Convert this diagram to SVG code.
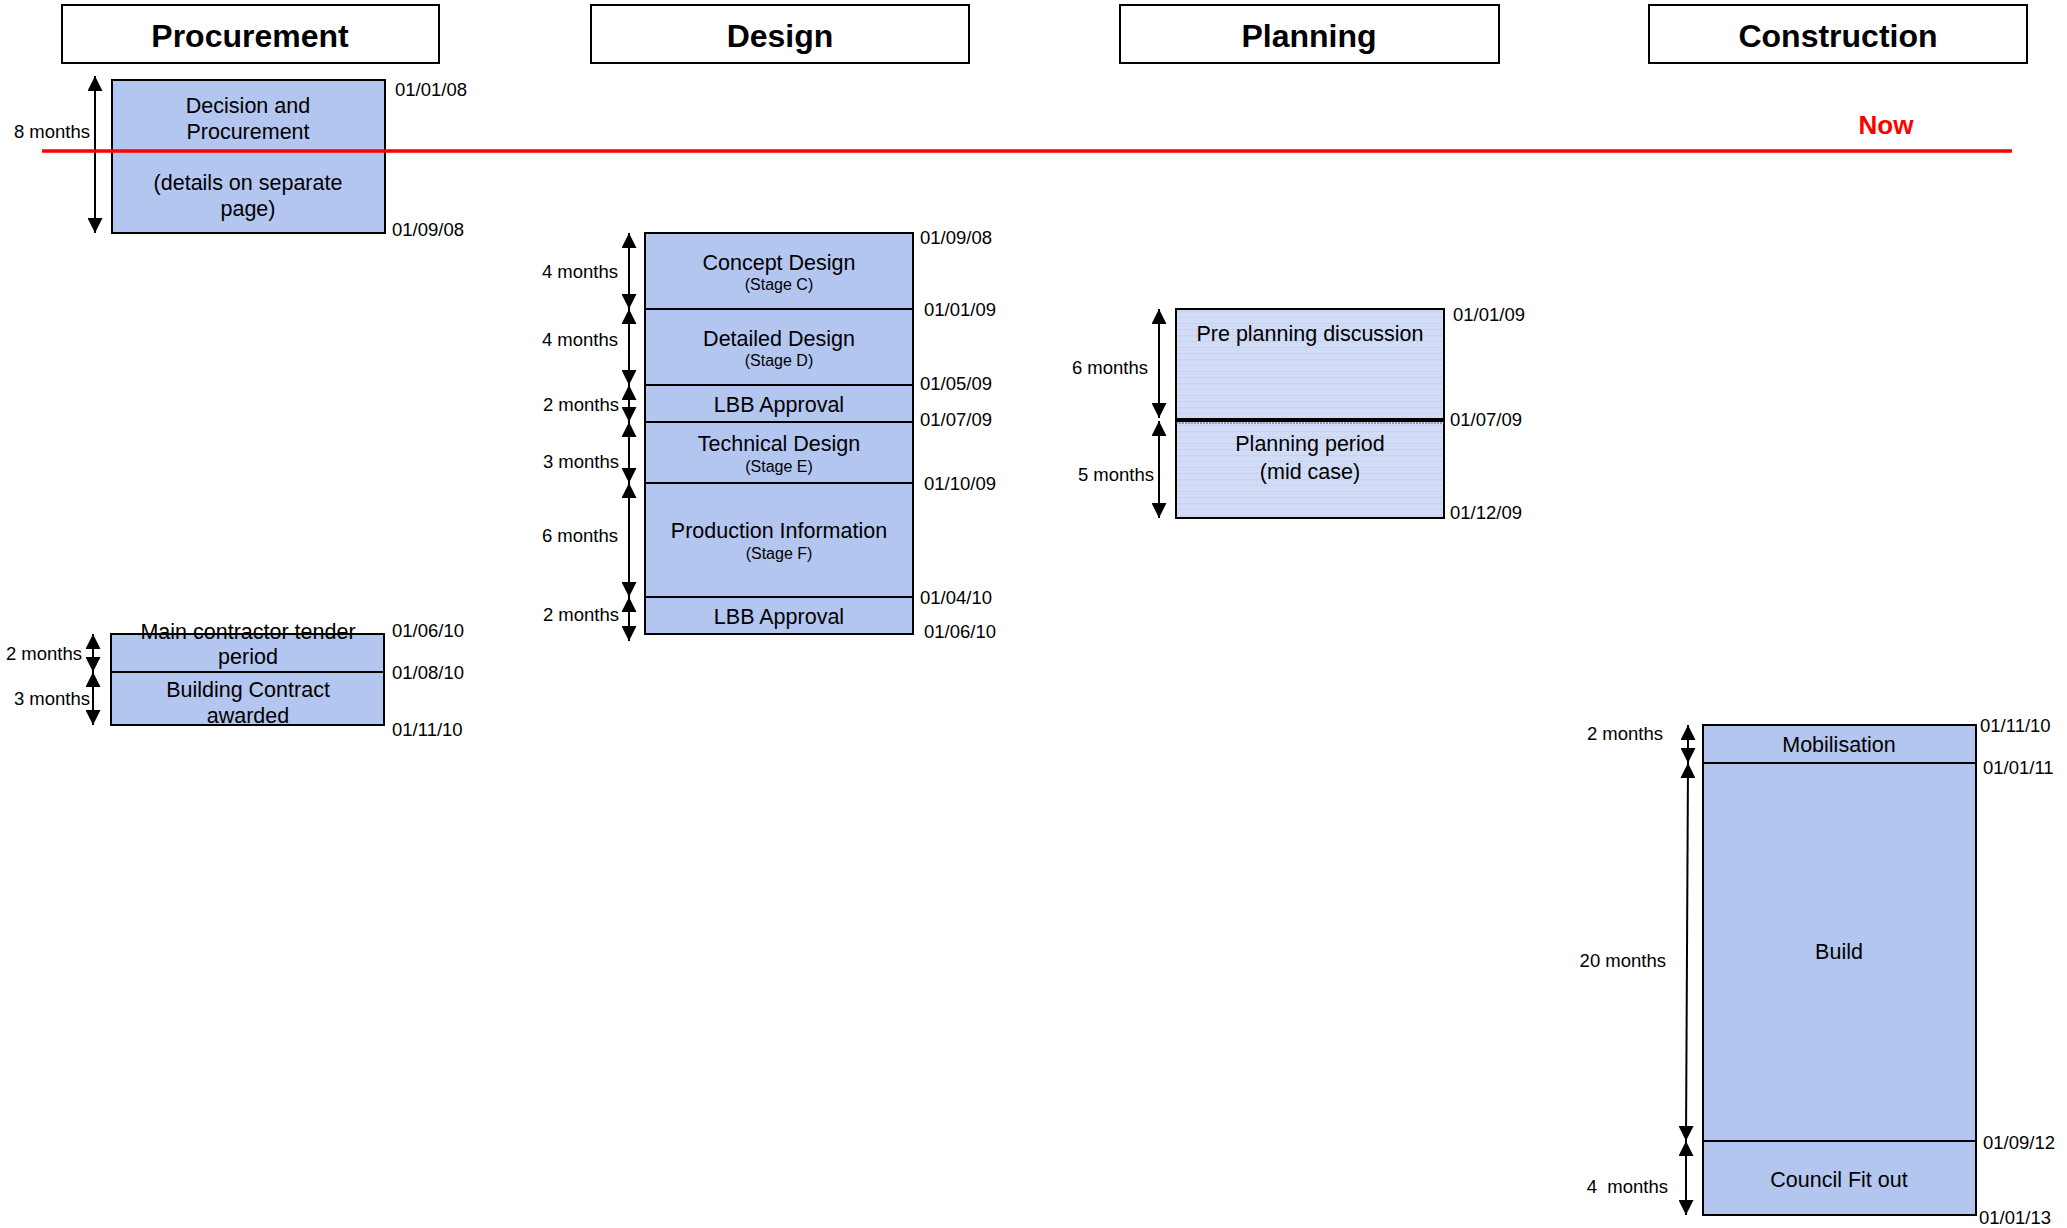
<svg xmlns="http://www.w3.org/2000/svg" width="2067" height="1228" viewBox="0 0 2067 1228">
<style>
text{font-family:"Liberation Sans",Arial,sans-serif;fill:#000}
.hdr rect{fill:#fff;stroke:#000;stroke-width:2}
.hdr text{font-size:32px;font-weight:bold;text-anchor:middle}
.box{fill:#b3c6ef;stroke:#000;stroke-width:2}
.pbox{fill:url(#tex);stroke:#000;stroke-width:2}
.lbl{font-size:21.5px;text-anchor:middle}
.sub{font-size:16px;text-anchor:middle}
.date{font-size:18.5px}
.mon{font-size:18.5px;text-anchor:end;white-space:pre}
.arr{stroke:#000;stroke-width:2;fill:none;marker-start:url(#ah);marker-end:url(#ah)}
</style>
<defs>
<marker id="ah" markerUnits="userSpaceOnUse" markerWidth="15" markerHeight="15" refX="15" refY="7.5" orient="auto-start-reverse" viewBox="0 0 15 15">
<path d="M0,0 L15,7.5 L0,15 z" fill="#000"/>
</marker>
<pattern id="tex" patternUnits="userSpaceOnUse" width="4" height="6">
<rect width="4" height="6" fill="#d3ddf5"/>
<rect x="0" y="0" width="1" height="1" fill="#c4d1f0"/>
<rect x="2" y="2" width="1" height="1" fill="#c4d1f0"/>
<rect x="0" y="4" width="1" height="1" fill="#c4d1f0"/>
<rect x="0" y="5" width="4" height="1" fill="#c8d4f2"/>
</pattern>
</defs>

<g id="header-procurement" class="hdr"><rect x="62" y="5" width="377" height="58"/><text x="250" y="47">Procurement</text></g>
<g id="header-design" class="hdr"><rect x="591" y="5" width="378" height="58"/><text x="780" y="47">Design</text></g>
<g id="header-planning" class="hdr"><rect x="1120" y="5" width="379" height="58"/><text x="1309" y="47">Planning</text></g>
<g id="header-construction" class="hdr"><rect x="1649" y="5" width="378" height="58"/><text x="1838" y="47">Construction</text></g>

<g id="node-decision">
<rect class="box" x="112" y="80" width="273" height="153"/>
<text class="lbl" x="248" y="113">Decision and</text>
<text class="lbl" x="248" y="139">Procurement</text>
<text class="lbl" x="248" y="190">(details on separate</text>
<text class="lbl" x="248" y="216">page)</text>
</g>

<g id="node-tender">
<rect class="box" x="111" y="634" width="273" height="38"/>
<text class="lbl" x="248" y="639">Main contractor tender</text>
<text class="lbl" x="248" y="664">period</text>
</g>
<g id="node-contract">
<rect class="box" x="111" y="672" width="273" height="53"/>
<text class="lbl" x="248" y="697">Building Contract</text>
<text class="lbl" x="248" y="723">awarded</text>
</g>

<g id="node-concept">
<rect class="box" x="645" y="233" width="268" height="76"/>
<text class="lbl" x="779" y="270">Concept Design</text>
<text class="sub" x="779" y="290">(Stage C)</text>
</g>
<g id="node-detailed">
<rect class="box" x="645" y="309" width="268" height="76"/>
<text class="lbl" x="779" y="346">Detailed Design</text>
<text class="sub" x="779" y="366">(Stage D)</text>
</g>
<g id="node-lbb1">
<rect class="box" x="645" y="385" width="268" height="37"/>
<text class="lbl" x="779" y="412">LBB Approval</text>
</g>
<g id="node-technical">
<rect class="box" x="645" y="422" width="268" height="61"/>
<text class="lbl" x="779" y="451">Technical Design</text>
<text class="sub" x="779" y="472">(Stage E)</text>
</g>
<g id="node-production">
<rect class="box" x="645" y="483" width="268" height="114"/>
<text class="lbl" x="779" y="538">Production Information</text>
<text class="sub" x="779" y="559">(Stage F)</text>
</g>
<g id="node-lbb2">
<rect class="box" x="645" y="597" width="268" height="37"/>
<text class="lbl" x="779" y="624">LBB Approval</text>
</g>

<g id="node-preplanning">
<rect class="pbox" x="1176" y="309" width="268" height="110"/>
<text class="lbl" x="1310" y="341">Pre planning discussion</text>
</g>
<g id="node-planningperiod">
<rect class="pbox" x="1176" y="421" width="268" height="97"/>
<line x1="1176" y1="423" x2="1444" y2="423" stroke="#556" stroke-width="1" stroke-dasharray="2,1"/>
<text class="lbl" x="1310" y="451">Planning period</text>
<text class="lbl" x="1310" y="479">(mid case)</text>
</g>

<g id="node-mobilisation">
<rect class="box" x="1703" y="725" width="273" height="38"/>
<text class="lbl" x="1839" y="752">Mobilisation</text>
</g>
<g id="node-build">
<rect class="box" x="1703" y="763" width="273" height="378"/>
<text class="lbl" x="1839" y="959">Build</text>
</g>
<g id="node-fitout">
<rect class="box" x="1703" y="1141" width="273" height="74"/>
<text class="lbl" x="1839" y="1187">Council Fit out</text>
</g>

<g id="connectors">
<line class="arr" x1="95" y1="76" x2="95" y2="233"/>
<line class="arr" x1="93" y1="634" x2="93" y2="672"/>
<line class="arr" x1="93" y1="672" x2="93" y2="725"/>
<line class="arr" x1="629" y1="233" x2="629" y2="309"/>
<line class="arr" x1="629" y1="309" x2="629" y2="385"/>
<line class="arr" x1="629" y1="385" x2="629" y2="422"/>
<line class="arr" x1="629" y1="422" x2="629" y2="483"/>
<line class="arr" x1="629" y1="483" x2="629" y2="597"/>
<line class="arr" x1="629" y1="597" x2="629" y2="641"/>
<line class="arr" x1="1159" y1="309" x2="1159" y2="418"/>
<line class="arr" x1="1159" y1="421" x2="1159" y2="518"/>
<line class="arr" x1="1688" y1="725" x2="1688" y2="763"/>
<line class="arr" x1="1688" y1="763" x2="1686" y2="1141"/>
<line class="arr" x1="1686" y1="1141" x2="1686" y2="1215"/>
</g>

<g id="durations">
<text class="mon" x="90" y="138">8 months</text>
<text class="mon" x="82" y="660">2 months</text>
<text class="mon" x="90" y="705">3 months</text>
<text class="mon" x="618" y="278">4 months</text>
<text class="mon" x="618" y="346">4 months</text>
<text class="mon" x="619" y="411">2 months</text>
<text class="mon" x="619" y="468">3 months</text>
<text class="mon" x="618" y="542">6 months</text>
<text class="mon" x="619" y="621">2 months</text>
<text class="mon" x="1148" y="374">6 months</text>
<text class="mon" x="1154" y="481">5 months</text>
<text class="mon" x="1663" y="740">2 months</text>
<text class="mon" x="1666" y="967">20 months</text>
<text class="mon" x="1668" y="1193" xml:space="preserve">4  months</text>
</g>

<g id="dates">
<text class="date" x="395" y="96">01/01/08</text>
<text class="date" x="392" y="236">01/09/08</text>
<text class="date" x="392" y="637">01/06/10</text>
<text class="date" x="392" y="679">01/08/10</text>
<text class="date" x="392" y="736">01/11/10</text>
<text class="date" x="920" y="244">01/09/08</text>
<text class="date" x="924" y="316">01/01/09</text>
<text class="date" x="920" y="390">01/05/09</text>
<text class="date" x="920" y="426">01/07/09</text>
<text class="date" x="924" y="490">01/10/09</text>
<text class="date" x="920" y="604">01/04/10</text>
<text class="date" x="924" y="638">01/06/10</text>
<text class="date" x="1453" y="321">01/01/09</text>
<text class="date" x="1450" y="426">01/07/09</text>
<text class="date" x="1450" y="519">01/12/09</text>
<text class="date" x="1980" y="732">01/11/10</text>
<text class="date" x="1983" y="774">01/01/11</text>
<text class="date" x="1983" y="1149">01/09/12</text>
<text class="date" x="1979" y="1224">01/01/13</text>
</g>

<g id="now-line">
<line x1="42" y1="151" x2="2012" y2="151" stroke="#ff0000" stroke-width="3.5"/>
<text x="1886" y="134" font-size="26" font-weight="bold" text-anchor="middle" style="fill:#ff0000">Now</text>
</g>
</svg>
